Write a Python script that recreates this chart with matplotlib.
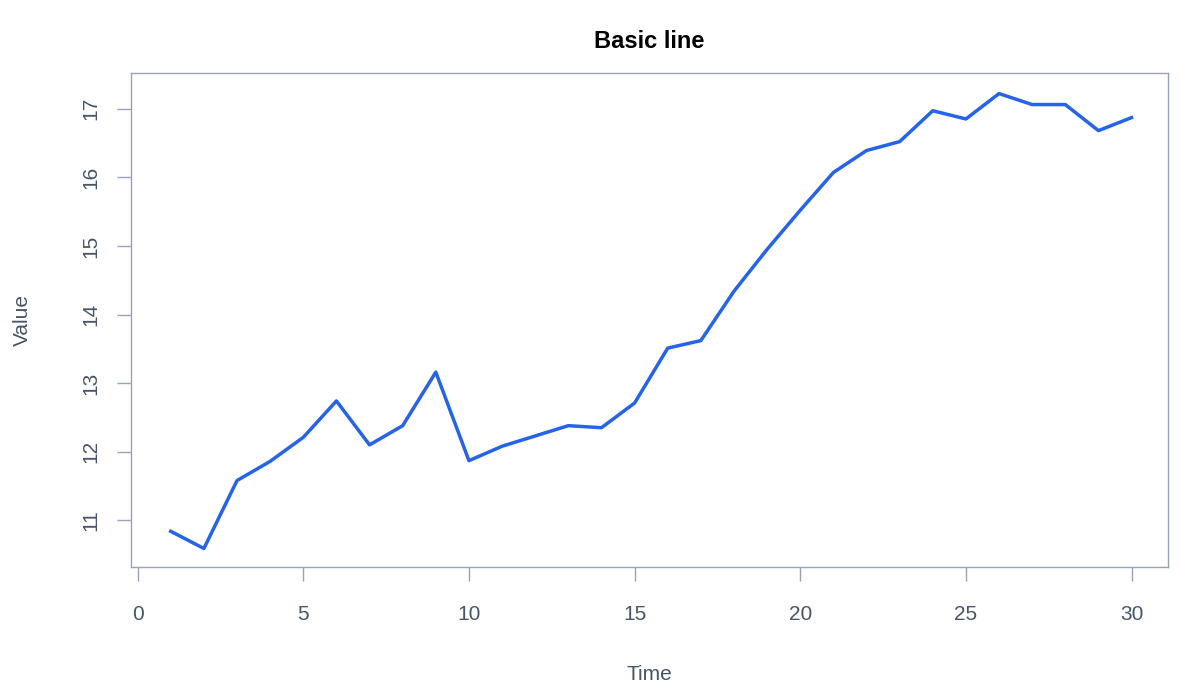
import matplotlib
matplotlib.use("Agg")
import matplotlib.pyplot as plt

time = list(range(1, 31))
value = [10.84, 10.59, 11.58, 11.86, 12.21, 12.74, 12.10, 12.38, 13.16, 11.87,
         12.08, 12.23, 12.38, 12.35, 12.71, 13.51, 13.62, 14.34, 14.95, 15.52,
         16.07, 16.39, 16.52, 16.97, 16.85, 17.22, 17.06, 17.06, 16.68, 16.87]
xticks = [0, 5, 10, 15, 20, 25, 30]
yticks = [11, 12, 13, 14, 15, 16, 17]

plt.rcParams['font.family'] = ['Liberation Sans', 'DejaVu Sans']
fig = plt.figure(figsize=(12, 7), dpi=100)
ax = fig.add_axes([131/1200, 1-567/700, (1168-131)/1200, (567-73)/700])
ax.plot(time, value, color='#2563eb', lw=2.5)
ax.set_xlim(-0.2, 31.1)
ax.set_ylim(10.32, 17.52)
ax.set_xticks(xticks)
ax.set_yticks(yticks)
edge = '#94a3b8'
for s in ax.spines.values():
    s.set_color(edge)
    s.set_linewidth(1)
ax.tick_params(colors=edge, labelcolor='#475569', length=10, width=1, labelsize=15)
ax.tick_params(axis='x', pad=17)
ax.tick_params(axis='y', pad=12)
for lab in ax.get_yticklabels():
    lab.set_rotation(90)
    lab.set_va('center')
ax.set_xlabel('Time', fontsize=15, color='#475569', labelpad=30)
ax.set_ylabel('Value', fontsize=15, color='#475569', labelpad=36)
ax.set_title('Basic line', fontsize=17, fontweight='bold', pad=18)
fig.savefig('out.png', dpi=100)
